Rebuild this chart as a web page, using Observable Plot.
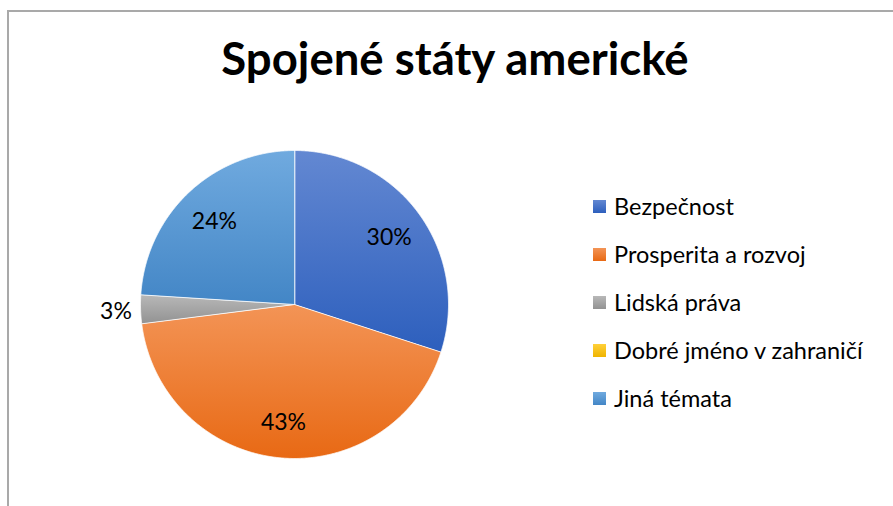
<!DOCTYPE html>
<html>
<head>
<meta charset="utf-8">
<script src="https://cdn.jsdelivr.net/npm/d3@7"></script>
<script src="https://cdn.jsdelivr.net/npm/@observablehq/plot@0.6"></script>
<style>
  html, body { margin: 0; padding: 0; background: #fff; }
  #wrap { position: relative; width: 893px; height: 506px; overflow: hidden; font-family: Lato, "Open Sans", sans-serif; }
  #frame { position: absolute; left: 7px; top: 10px; width: 900px; height: 520px; border-left: 2px solid #a9a9a9; border-top: 2px solid #a9a9a9; box-sizing: border-box; }
  #title { position: absolute; left: 0; width: 910px; top: 28px; text-align: center; font-weight: 700; font-size: 45.5px; color: #000; line-height: 60px; white-space: nowrap; }
  #chart { position: absolute; left: 0; top: 0; }
  #legend { position: absolute; left: 593px; top: 194px; }
  .row { display: flex; align-items: center; height: 48px; margin-top: -12px; margin-bottom: 12px; font-size: 23.5px; color: #000; white-space: nowrap; }
  .sw { width: 13px; height: 13px; margin-right: 8px; }
</style>
</head>
<body>
<div id="wrap">
  <div id="frame"></div>
  <div id="chart"></div>
  <div id="title">Spojené státy americké</div>
  <div id="legend"></div>
</div>
<script>
const categories = ["Bezpečnost", "Prosperita a rozvoj", "Lidská práva", "Dobré jméno v zahraničí", "Jiná témata"];
const values = [30, 43, 3, 0, 24];
const colorsTop = ["#6388d2", "#f39456", "#b8b8b8", "#ffd03a", "#70aadf"];
const colorsBottom = ["#2d5fbd", "#e86914", "#929292", "#efb400", "#4386c6"];

const data = categories.map((c, i) => ({category: c, value: values[i], i}));
const arcs = d3.pie().sort(null).value(d => d.value)(data);
const total = d3.sum(values);

const slices = arcs.filter(a => a.data.value > 0).map(a => {
  const n = Math.max(2, Math.ceil((a.endAngle - a.startAngle) / 0.005));
  const pts = [{x: 0, y: 0}];
  for (let k = 0; k <= n; k++) {
    const ang = a.startAngle + (a.endAngle - a.startAngle) * k / n;
    pts.push({x: Math.sin(ang), y: Math.cos(ang)});
  }
  return {i: a.data.i, pts};
});

const labels = arcs.filter(a => a.data.value > 0).map(a => {
  const mid = (a.startAngle + a.endAngle) / 2;
  const share = a.data.value / total;
  const r = share < 0.05 ? 1.16 : 0.76;
  return {x: Math.sin(mid) * r, y: Math.cos(mid) * r, text: Math.round(share * 100) + "%"};
});

const plot = Plot.plot({
  width: 893,
  height: 506,
  margin: 0,
  x: {domain: [-1, 1], range: [140, 448], axis: null},
  y: {domain: [-1, 1], range: [458, 150], axis: null},
  style: {fontFamily: "Lato, 'Open Sans', sans-serif", background: "transparent", overflow: "visible"},
  marks: [
    ...slices.map(s => Plot.line(s.pts, {x: "x", y: "y", fill: `url(#g${s.i})`, stroke: "#ffffff", strokeWidth: 0.8, curve: "linear-closed"})),
    Plot.text(labels, {x: "x", y: "y", text: "text", fontSize: 23, fontFamily: "Lato", fill: "#000", dy: 2})
  ]
});

const defs = d3.select(plot).insert("defs", ":first-child");
categories.forEach((c, i) => {
  const g = defs.append("linearGradient").attr("id", "g" + i).attr("x1", 0).attr("y1", 0).attr("x2", 0).attr("y2", 1);
  g.append("stop").attr("offset", "0%").attr("stop-color", colorsTop[i]);
  g.append("stop").attr("offset", "100%").attr("stop-color", colorsBottom[i]);
});

document.getElementById("chart").appendChild(plot);

const legend = document.getElementById("legend");
categories.forEach((c, i) => {
  const row = document.createElement("div");
  row.className = "row";
  const sw = document.createElement("div");
  sw.className = "sw";
  sw.style.background = `linear-gradient(${colorsTop[i]}, ${colorsBottom[i]})`;
  const t = document.createElement("span");
  t.textContent = c;
  row.appendChild(sw);
  row.appendChild(t);
  legend.appendChild(row);
});
</script>
</body>
</html>
